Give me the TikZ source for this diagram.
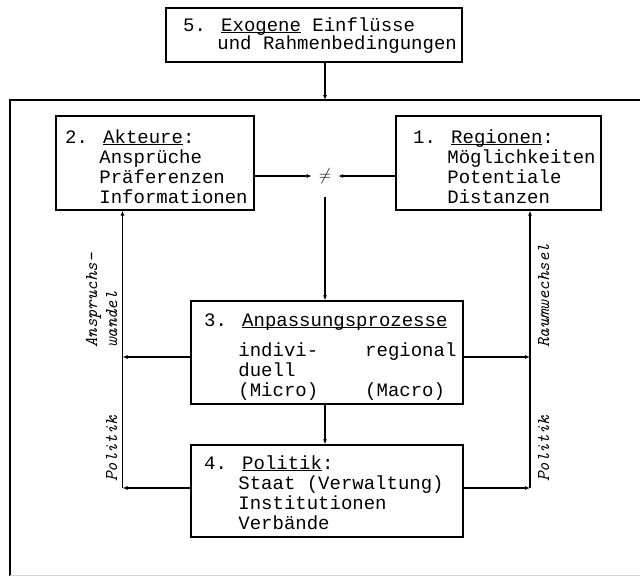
\documentclass[tikz,border=0pt]{standalone}
\usepackage{fontspec}
\setmainfont{Liberation Mono}
\usetikzlibrary{arrows.meta,fit}
\newcommand\tul[1]{\underline{\smash{#1}}}
\begin{document}
\begin{tikzpicture}[x=1pt,y=-1pt,
  boxf/.style={draw, line width=1.3pt, inner sep=0pt},
  txt/.style={anchor=base west, inner sep=0pt, font=\fontsize{19}{20}\selectfont},
  lab/.style={rotate=90, anchor=base west, inner sep=0pt, font=\fontsize{18}{20}\selectfont\ttfamily\itshape},
  arr/.style={line width=1.1pt, -{Latex[length=5pt,width=4pt]}},
  ln/.style={line width=1.2pt}]
\useasboundingbox (0,0) rectangle (640,576);
% frame
\coordinate (ftl) at (10,100);
\draw[ln] (640,100) -- (ftl) -- (10,576);
\draw[gray!35, line width=0.8pt] (10,575) -- (640,575);
% boxes
\node[boxf, fit={(166,8) (462,62)}] (b5) {};
\node[boxf, fit={(56,116) (254,210)}] (b2) {};
\node[boxf, fit={(396,116) (601,210)}] (b1) {};
\node[boxf, fit={(191,301) (463,404)}] (b3) {};
\node[boxf, fit={(191,445) (463,537)}] (b4) {};
% texts
\node[txt] (t5a) at (183,31) {5. \tul{Exogene} Einflüsse};
\node[txt] (t5b) at (217.2,49) {und Rahmenbedingungen};
\node[txt] (t2a) at (65,143) {2. \tul{Akteure}:};
\node[txt] (t2b) at (99.2,163) {Ansprüche};
\node[txt] (t2c) at (99.2,183) {Präferenzen};
\node[txt] (t2d) at (99.2,203) {Informationen};
\node[txt] (t1a) at (413,143) {1. \tul{Regionen}:};
\node[txt] (t1b) at (447.2,163) {Möglichkeiten};
\node[txt] (t1c) at (447.2,183) {Potentiale};
\node[txt] (t1d) at (447.2,203) {Distanzen};
\node[txt] (t3a) at (204,326) {3. \tul{Anpassungsprozesse}};
\node[txt] (t3b) at (238.2,356) {indivi-};
\node[txt] (t3c) at (365,356) {regional};
\node[txt] (t3d) at (238.2,376) {duell};
\node[txt] (t3e) at (238.2,396) {(Micro)};
\node[txt] (t3f) at (365,396) {(Macro)};
\node[txt] (t4a) at (204,469) {4. \tul{Politik}:};
\node[txt] (t4b) at (238.2,489) {Staat (Verwaltung)};
\node[txt] (t4c) at (238.2,509) {Institutionen};
\node[txt] (t4d) at (238.2,529) {Verbände};
% neq
\node[inner sep=0pt, minimum width=26pt, minimum height=42pt, font=\fontsize{17}{17}\selectfont] (neq) at (325,176) {$\neq$};
% rotated labels
\node[lab] (la1) at (97,348) {Anspruchs-};
\node[lab] (la2) at (117,348) {wandel};
\node[lab] (lp1) at (117,482) {Politik};
\node[lab] (lr1) at (549,348) {Raumwechsel};
\node[lab] (lp2) at (549,482) {Politik};
% coordinates
\coordinate (L3) at (122.5,357);
\coordinate (R3) at (530,357);
\coordinate (L4) at (122.5,488);
\coordinate (R4) at (530,488);
% connectors
\draw[arr] (b5.south -| neq) -- (ftl -| neq);
\draw[arr] (b2.east |- neq) -- (neq.west);
\draw[arr] (b1.west |- neq) -- (neq.east);
\draw[arr] (neq.south) -- (b3.north -| neq);
\draw[arr] (b3.south -| neq) -- (b4.north -| neq);
\draw[arr] (b3.west |- L3) -- (L3);
\draw[arr] (b3.east |- R3) -- (R3);
\draw[arr] (b4.west |- L4) -- (L4);
\draw[arr] (b4.east |- R4) -- (R4);
\draw[arr] (L4) -- (L4 |- b2.south);
\draw[arr] (R4) -- (R4 |- b1.south);
\end{tikzpicture}
\end{document}
